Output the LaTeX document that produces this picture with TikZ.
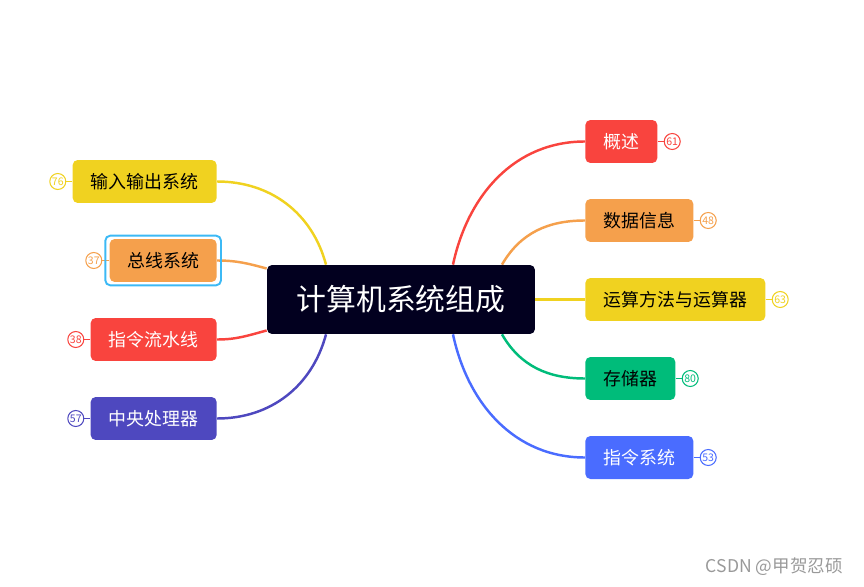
\documentclass[tikz,border=0pt]{standalone}
\usepackage{fontspec}
\setmainfont{Noto Sans CJK SC}
\usepackage{tikz}
\usetikzlibrary{backgrounds}
\usetikzlibrary{positioning}

\definecolor{rootcol}{HTML}{02001F}
\definecolor{redcol}{HTML}{F9443E}
\definecolor{orangecol}{HTML}{F5A04C}
\definecolor{yellowcol}{HTML}{F0D220}
\definecolor{greencol}{HTML}{00BC7A}
\definecolor{bluecol}{HTML}{4A6CFF}
\definecolor{purplecol}{HTML}{4E48BF}
\definecolor{selcol}{HTML}{3CB9F5}

\begin{document}
\begin{tikzpicture}[
            x=0.02cm, y=-0.02cm,
            rootnode/.style={fill=rootcol, text=white, rounded corners=0.1cm, minimum width=5.36cm, minimum height=1.38cm, inner sep=0pt, font=\fontsize{17}{20}\selectfont},
            topic/.style={fill=#1, rounded corners=0.1cm, minimum height=0.86cm, inner sep=0pt, font=\fontsize{10.2}{12}\selectfont},
            badge/.style={circle, draw=#1, fill=white, text=#1, line width=0.6pt, minimum size=0.32cm, inner sep=0pt, font=\fontsize{6}{6}\selectfont},
            link/.style={draw=#1, line width=1.4pt},
            tick/.style={draw=#1, line width=1pt},
            selbox/.style={draw=selcol, line width=1.1pt, rounded corners=0.1cm}
        ]
            % canvas
            \useasboundingbox (0,0) rectangle (864,587);

            % centre
            \node[rootnode] (root) at (401,299.5) {计算机系统组成};

            % topics on the right
            \node[topic=redcol, text=white, anchor=west, minimum width=1.44cm] (n1) at (585,141.5) {概述};
            \node[topic=orangecol, anchor=west, minimum width=2.16cm] (n2) at (585,220.5) {数据信息};
            \node[topic=yellowcol, anchor=west, minimum width=3.6cm] (n3) at (585,299.5) {运算方法与运算器};
            \node[topic=greencol, anchor=west, minimum width=1.8cm] (n4) at (585,378.5) {存储器};
            \node[topic=bluecol, text=white, anchor=west, minimum width=2.16cm] (n5) at (585,457.5) {指令系统};

            % topics on the left
            \node[topic=yellowcol, anchor=east, minimum width=2.88cm] (n6) at (217,181.5) {输入输出系统};
            \node[topic=orangecol, anchor=east, minimum width=2.14cm] (n7) at (217,260.5) {总线系统};
            \node[topic=redcol, text=white, anchor=east, minimum width=2.52cm] (n8) at (217,339.5) {指令流水线};
            \node[topic=purplecol, text=white, anchor=east, minimum width=2.52cm] (n9) at (217,418.5) {中央处理器};

            % selected topic
            \draw[selbox] ([shift={(-0.08cm,0.06cm)}]n7.north west) rectangle ([shift={(0.08cm,-0.06cm)}]n7.south east);

            % counters
            \node[badge=redcol, right=0.12cm of n1] (b1) {61};
            \node[badge=orangecol, right=0.12cm of n2] (b2) {48};
            \node[badge=yellowcol, right=0.12cm of n3] (b3) {63};
            \node[badge=greencol, right=0.12cm of n4] (b4) {80};
            \node[badge=bluecol, right=0.12cm of n5] (b5) {53};
            \node[badge=yellowcol, left=0.12cm of n6] (b6) {76};
            \node[badge=orangecol, left=0.14cm of n7] (b7) {37};
            \node[badge=redcol, left=0.12cm of n8] (b8) {38};
            \node[badge=purplecol, left=0.12cm of n9] (b9) {57};

            % links
            \begin{scope}[on background layer]
                \draw[link=redcol] ([xshift=1.04cm]root.north) to[out=78, in=180] (n1.west);
                \draw[link=orangecol] ([xshift=2.02cm]root.north) to[out=60, in=180] (n2.west);
                \draw[link=yellowcol] (root.east) -- (n3.west);
                \draw[link=greencol] ([xshift=2.02cm]root.south) to[out=-60, in=180] (n4.west);
                \draw[link=bluecol] ([xshift=1.04cm]root.south) to[out=-78, in=180] (n5.west);
                \draw[link=yellowcol] ([xshift=-1.5cm]root.north) to[out=105, in=0] (n6.east);
                \draw[link=orangecol] ([yshift=0.62cm]root.west) to[out=165, in=0] (n7.east);
                \draw[link=redcol] ([yshift=-0.62cm]root.west) to[out=195, in=0] (n8.east);
                \draw[link=purplecol] ([xshift=-1.5cm]root.south) to[out=-105, in=0] (n9.east);

                \draw[tick=redcol] (n1) -- (b1);
                \draw[tick=orangecol] (n2) -- (b2);
                \draw[tick=yellowcol] (n3) -- (b3);
                \draw[tick=greencol] (n4) -- (b4);
                \draw[tick=bluecol] (n5) -- (b5);
                \draw[tick=yellowcol] (n6) -- (b6);
                \draw[tick=orangecol] (n7) -- (b7);
                \draw[tick=redcol] (n8) -- (b8);
                \draw[tick=purplecol] (n9) -- (b9);
            \end{scope}

            % watermark
            \node[anchor=east, text=gray!80, font=\fontsize{10}{11}\selectfont] (mark) at (849,567) {CSDN @甲贺忍硕};

        \end{tikzpicture}
\end{document}
